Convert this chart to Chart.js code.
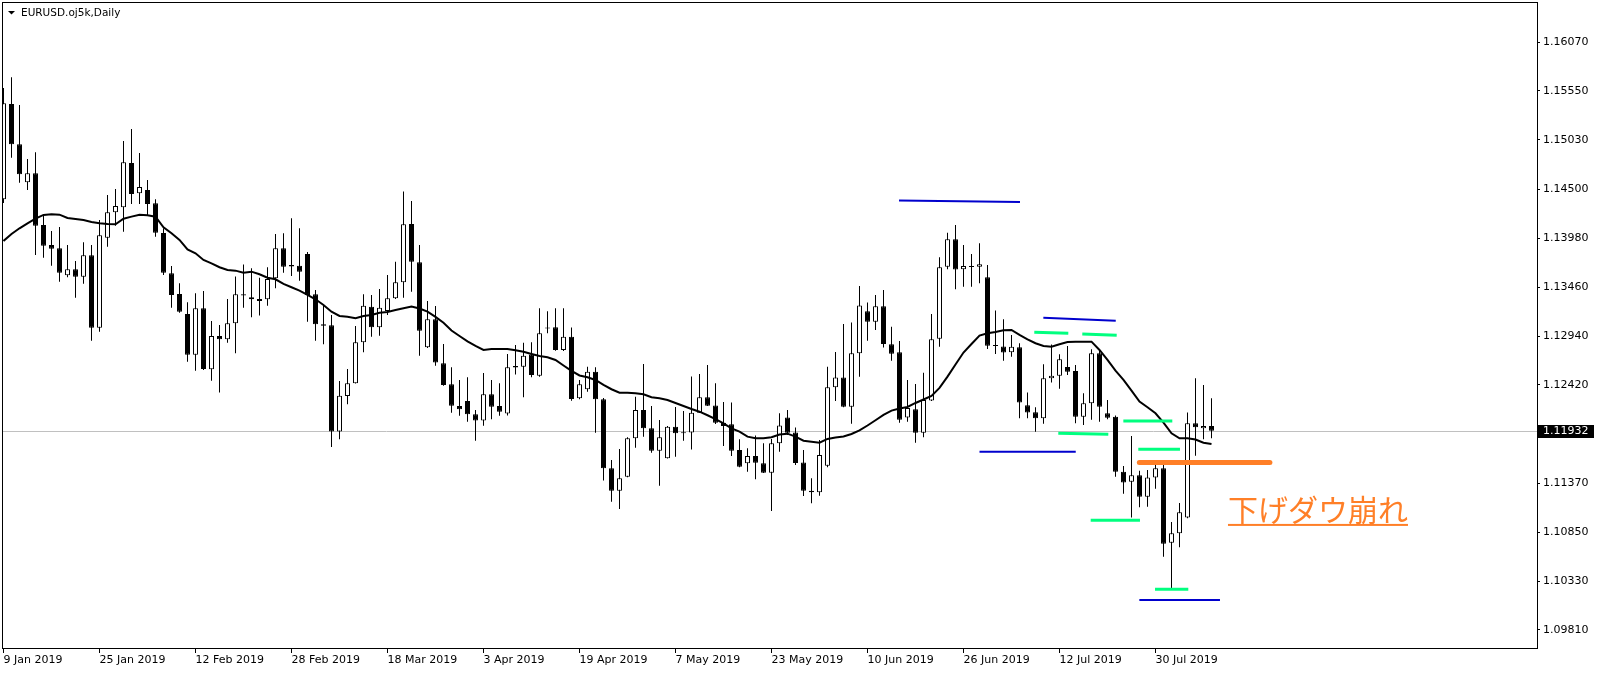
<!DOCTYPE html>
<html><head><meta charset="utf-8">
<script src="https://cdn.jsdelivr.net/npm/chart.js@4.4.0/dist/chart.umd.min.js"></script>
<style>html,body{margin:0;padding:0;background:#fff;}canvas{display:block;}</style>
</head><body>
<canvas id="c" width="1600" height="673"></canvas>
<script>
const symbolTitle = 'EURUSD.oj5k,Daily';
const annotationText = '下げダウ崩れ';

const opens = [1.14396,1.15411,1.14982,1.14577,1.14673,1.14122,1.13909,1.13874,1.13587,1.13650,
1.13572,1.13800,1.13029,1.13987,1.14257,1.14311,1.14782,1.14460,1.14495,1.14353,
1.14037,1.13608,1.13387,1.13175,1.12741,1.13235,1.12586,1.12940,1.12905,1.13076,
1.13384,1.13352,1.13334,1.13331,1.13555,1.13874,1.13696,1.13689,1.13813,1.13384,
1.13065,1.13054,1.11923,1.12301,1.12437,1.12873,1.13252,1.13033,1.13206,1.13342,
1.13512,1.14133,1.13725,1.12820,1.13118,1.12650,1.12426,1.12195,1.12248,1.12107,
1.12041,1.12320,1.12195,1.12115,1.12621,1.12613,1.12743,1.12518,1.13031,1.13033,
1.12791,1.12933,1.12277,1.12373,1.12560,1.12266,1.11532,1.11293,1.11442,1.11851,
1.12152,1.11957,1.11719,1.11638,1.11974,1.11915,1.11913,1.12124,1.12288,1.12200,
1.12017,1.12000,1.11726,1.11585,1.11663,1.11585,1.11485,1.11798,1.12073,1.11913,
1.11593,1.11293,1.11276,1.11559,1.12394,1.12498,1.12187,1.12756,1.13204,1.13093,
1.13258,1.12853,1.12768,1.12073,1.12161,1.11911,1.12253,1.12910,1.13678,1.13970,
1.13650,1.13680,1.13678,1.13565,1.12839,1.12828,1.12767,1.12820,1.12203,1.12128,
1.12064,1.12490,1.12518,1.12610,1.12567,1.12081,1.12224,1.12756,1.12117,1.12081,
1.11495,1.11389,1.11457,1.11229,1.11434,1.11532,1.10739,1.10839,1.11006,1.12011,
1.11957,1.11982];

const highs = [1.15581,1.15695,1.15400,1.14825,1.14896,1.14239,1.14058,1.14101,1.13909,1.13739,
1.13938,1.13909,1.14175,1.14442,1.14506,1.15017,1.15144,1.14889,1.14601,1.14396,
1.14087,1.13686,1.13501,1.13299,1.13395,1.13419,1.13100,1.13057,1.13334,1.13574,
1.13702,1.13661,1.13561,1.13672,1.14026,1.14034,1.14194,1.14087,1.13835,1.13430,
1.13260,1.13164,1.12461,1.12589,1.13047,1.13384,1.13377,1.13441,1.13590,1.13731,
1.14479,1.14378,1.13909,1.13313,1.13260,1.12855,1.12607,1.12472,1.12500,1.12152,
1.12546,1.12472,1.12437,1.12749,1.12844,1.12869,1.12873,1.13235,1.13203,1.13235,
1.13235,1.13031,1.12472,1.12613,1.12607,1.12280,1.11620,1.11737,1.11862,1.12294,
1.12642,1.12195,1.12046,1.11982,1.12184,1.12142,1.12509,1.12536,1.12632,1.12437,
1.12237,1.12232,1.11840,1.11745,1.11881,1.11798,1.11844,1.12117,1.12152,1.11966,
1.11726,1.11425,1.11833,1.12613,1.12770,1.13068,1.13084,1.13473,1.13297,1.13377,
1.13430,1.13039,1.12887,1.12472,1.12429,1.12550,1.13175,1.13778,1.14040,1.14122,
1.13909,1.13813,1.13927,1.13696,1.13212,1.13118,1.12951,1.12863,1.12339,1.12181,
1.12639,1.12850,1.12746,1.12834,1.12631,1.12330,1.12799,1.12794,1.12259,1.12094,
1.11556,1.11875,1.11506,1.11513,1.11572,1.11572,1.10960,1.11162,1.12126,1.12490,
1.12418,1.12277];

const lows = [1.14357,1.14839,1.14573,1.14495,1.13803,1.13774,1.13689,1.13519,1.13565,1.13348,
1.13497,1.12890,1.12986,1.13891,1.14115,1.14051,1.14346,1.14346,1.14229,1.13998,
1.13590,1.13242,1.13188,1.12667,1.12571,1.12578,1.12464,1.12339,1.12869,1.12756,
1.13242,1.13139,1.13157,1.13263,1.13448,1.13614,1.13579,1.13529,1.13093,1.12890,
1.12852,1.11758,1.11840,1.12213,1.12435,1.12767,1.12933,1.12943,1.13164,1.13334,
1.13348,1.13412,1.12731,1.12812,1.12624,1.12411,1.12124,1.12092,1.12028,1.11825,
1.11985,1.12053,1.12092,1.12094,1.12530,1.12288,1.12500,1.12507,1.12969,1.12784,
1.12781,1.12251,1.12266,1.12347,1.11911,1.11402,1.11176,1.11098,1.11436,1.11751,
1.11868,1.11698,1.11346,1.11636,1.11655,1.11825,1.11732,1.12120,1.12195,1.12003,
1.11769,1.11663,1.11542,1.11495,1.11414,1.11482,1.11077,1.11708,1.11886,1.11567,
1.11237,1.11159,1.11240,1.11542,1.12248,1.12181,1.12006,1.12507,1.12890,1.13004,
1.12818,1.12677,1.12017,1.12028,1.11804,1.11862,1.12248,1.12826,1.13650,1.13437,
1.13465,1.13465,1.13501,1.12802,1.12749,1.12677,1.12720,1.12064,1.12064,1.11921,
1.12006,1.12445,1.12379,1.12525,1.12011,1.11993,1.12049,1.12028,1.12053,1.11442,
1.11261,1.11006,1.11116,1.11122,1.11314,1.10590,1.10257,1.10690,1.10999,1.11666,
1.11840,1.11851];

const closes = [1.15418,1.14982,1.14662,1.14673,1.14115,1.13902,1.13870,1.13614,1.13650,1.13572,
1.13800,1.13029,1.14013,1.14257,1.14325,1.14790,1.14452,1.14527,1.14346,1.14040,
1.13614,1.13377,1.13199,1.12741,1.13235,1.12589,1.12940,1.12905,1.13076,1.13384,
1.13371,1.13331,1.13313,1.13547,1.13874,1.13678,1.13680,1.13625,1.13377,1.13065,
1.13050,1.11923,1.12305,1.12437,1.12873,1.13263,1.13033,1.13242,1.13342,1.13512,
1.14130,1.13731,1.12997,1.13118,1.12658,1.12418,1.12198,1.12160,1.12107,1.12041,
1.12320,1.12187,1.12134,1.12607,1.12605,1.12731,1.12525,1.12969,1.13020,1.12791,
1.12933,1.12269,1.12426,1.12560,1.12266,1.11532,1.11293,1.11425,1.11851,1.12152,
1.11957,1.11719,1.11862,1.11974,1.11904,1.11904,1.12124,1.12288,1.12198,1.12017,
1.11982,1.11719,1.11549,1.11663,1.11591,1.11485,1.11798,1.11987,1.11911,1.11588,
1.11293,1.11276,1.11673,1.12394,1.12498,1.12187,1.12756,1.13265,1.13093,1.13258,
1.12855,1.12752,1.12049,1.12174,1.11911,1.12259,1.12905,1.13672,1.13970,1.13648,
1.13686,1.13676,1.13705,1.12837,1.12834,1.12765,1.12826,1.12232,1.12126,1.12064,
1.12490,1.12518,1.12692,1.12560,1.12081,1.12224,1.12756,1.12187,1.12070,1.11495,
1.11380,1.11457,1.11229,1.11434,1.11532,1.10729,1.10839,1.11063,1.12011,1.11968,
1.11982,1.11932];

const maValues = [1.13952,1.14026,1.14087,1.14140,1.14189,1.14229,1.14236,1.14232,1.14197,1.14186,
1.14175,1.14154,1.14140,1.14133,1.14130,1.14189,1.14211,1.14232,1.14225,1.14211,
1.14098,1.14034,1.13963,1.13863,1.13821,1.13750,1.13714,1.13672,1.13643,1.13636,
1.13614,1.13625,1.13597,1.13561,1.13544,1.13494,1.13459,1.13423,1.13377,1.13331,
1.13270,1.13199,1.13153,1.13146,1.13129,1.13153,1.13164,1.13188,1.13196,1.13217,
1.13235,1.13254,1.13233,1.13199,1.13143,1.13082,1.12999,1.12940,1.12882,1.12834,
1.12791,1.12802,1.12802,1.12802,1.12788,1.12773,1.12749,1.12727,1.12713,1.12685,
1.12626,1.12568,1.12520,1.12501,1.12472,1.12419,1.12373,1.12336,1.12336,1.12330,
1.12319,1.12288,1.12277,1.12259,1.12227,1.12195,1.12163,1.12134,1.12096,1.12056,
1.12009,1.11957,1.11921,1.11868,1.11851,1.11851,1.11862,1.11891,1.11900,1.11868,
1.11825,1.11815,1.11804,1.11844,1.11860,1.11870,1.11897,1.11934,1.11987,1.12043,
1.12099,1.12145,1.12168,1.12184,1.12227,1.12264,1.12301,1.12387,1.12507,1.12637,
1.12764,1.12855,1.12945,1.12969,1.12983,1.13001,1.13004,1.12951,1.12905,1.12863,
1.12834,1.12826,1.12852,1.12876,1.12880,1.12880,1.12880,1.12791,1.12685,1.12571,
1.12472,1.12358,1.12241,1.12181,1.12117,1.12017,1.11904,1.11851,1.11851,1.11838,
1.11804,1.11790];

// date axis: bar index of each label and its text
const dateTickIndex = [0,12,24,36,48,60,72,84,96,108,120,132,144];
const dateTickLabels = ['9 Jan 2019','25 Jan 2019','12 Feb 2019','28 Feb 2019','18 Mar 2019','3 Apr 2019',
  '19 Apr 2019','7 May 2019','23 May 2019','10 Jun 2019','26 Jun 2019','12 Jul 2019','30 Jul 2019'];
const priceTicks = [1.09810,1.10330,1.10850,1.11370,1.11900,1.12420,1.12940,1.13460,1.13980,1.14500,1.15030,1.15550,1.16070];

// drawn objects: [startBar, startPrice, endBar, endPrice]
const blueLines = [
  [111.94,1.14383,127.06,1.14367],
  [129.98,1.13135,139.03,1.13103],
  [122.00,1.11708,134.03,1.11708],
  [141.98,1.10129,152.06,1.10129]
];
const greenLines = [
  [128.85,1.12980,133.10,1.12969],
  [134.85,1.12962,139.15,1.12948],
  [139.98,1.12035,146.10,1.12035],
  [131.85,1.11904,138.10,1.11894],
  [141.85,1.11734,147.06,1.11734],
  [135.90,1.10978,142.06,1.10978],
  [143.94,1.10243,148.10,1.10243]
];
const orangeLines = [
  [141.98,1.11592,158.30,1.11592]
];
const annotationAt = [153.06, 1.11088]; // bar, price (text centre line)

const xMin = -0.0625, xMax = 191.6875;
const yMin = 1.09607, yMax = 1.16486;

const wickData = lows.map((l,i)=>({x:i, y:[l, highs[i]]}));
const bodyData = opens.map((o,i)=>({x:i, y:[o, closes[i]]}));
const bodyFill = opens.map((o,i)=> closes[i] >= o ? '#ffffff' : '#000000');
const maData = maValues.map((v,i)=>({x:i, y:v}));

function segDatasets(list, color, width, cap){
  return list.map(s => ({
    type:'line', data:[{x:s[0],y:s[1]},{x:s[2],y:s[3]}],
    borderColor:color, borderWidth:width, borderCapStyle:cap,
    pointRadius:0, pointHoverRadius:0, tension:0, order:0, clip:0
  }));
}

const decor = {
  id:'decor',
  beforeDatasetsDraw(chart){
    const {ctx, chartArea:a, scales:{y}} = chart;
    const py = Math.round(y.getPixelForValue(closes[closes.length-1])) + 0.5;
    ctx.save();
    ctx.strokeStyle = '#c0c0c0'; ctx.lineWidth = 1;
    ctx.beginPath(); ctx.moveTo(a.left, py); ctx.lineTo(a.right, py); ctx.stroke();
    ctx.restore();
  },
  afterDraw(chart){
    const {ctx, chartArea:a, scales:{x,y}} = chart;
    ctx.save();
    // frame
    ctx.strokeStyle = '#000'; ctx.lineWidth = 1;
    ctx.strokeRect(Math.round(a.left)-0.5, Math.round(a.top)-0.5, Math.round(a.right-a.left)+1, Math.round(a.bottom-a.top));
    // title
    ctx.fillStyle = '#000';
    ctx.beginPath(); ctx.moveTo(8,11); ctx.lineTo(15,11); ctx.lineTo(11.5,14.5); ctx.closePath(); ctx.fill();
    ctx.font = '10.5px "DejaVu Sans"'; ctx.textBaseline = 'alphabetic'; ctx.textAlign = 'left';
    ctx.fillText(symbolTitle, 21, 16);
    // current price box
    const last = closes[closes.length-1];
    const py = Math.round(y.getPixelForValue(last));
    ctx.fillStyle = '#000';
    ctx.fillRect(a.right+1, py-6, 56, 13);
    ctx.fillStyle = '#fff'; ctx.font = '11px "DejaVu Sans"'; ctx.textBaseline = 'middle';
    ctx.fillText(last.toFixed(5), a.right+6, py+0.5);
    // annotation
    const tx = x.getPixelForValue(annotationAt[0]);
    const ty = y.getPixelForValue(annotationAt[1]);
    ctx.font = '30px "Noto Sans CJK JP"';
    ctx.fillStyle = '#FF7F27'; ctx.textBaseline = 'middle';
    ctx.fillText(annotationText, tx, ty);
    const w = ctx.measureText(annotationText).width;
    ctx.fillRect(tx, ty+14, w, 2);
    ctx.restore();
  }
};

new Chart(document.getElementById('c'), {
  type:'bar',
  data:{ datasets:[
    ...segDatasets(blueLines, '#0000CD', 2, 'butt'),
    ...segDatasets(greenLines, '#00FF7F', 3, 'butt'),
    ...segDatasets(orangeLines, '#FF7F27', 5, 'round'),
    {type:'line', data:maData, borderColor:'#000', borderWidth:2, pointRadius:0, pointHoverRadius:0, tension:0, order:1, clip:0},
    {type:'bar', data:bodyData, backgroundColor:bodyFill, borderColor:'#000', borderWidth:1, borderSkipped:false,
      barThickness:5, grouped:false, inflateAmount:0, minBarLength:1, order:2, clip:0},
    {type:'bar', data:wickData, backgroundColor:'#000', borderWidth:0, barThickness:1, grouped:false, inflateAmount:0, order:3, clip:0}
  ]},
  options:{
    responsive:false, devicePixelRatio:1, animation:false,
    layout:{padding:{left:3, top:3, right:0, bottom:0}},
    plugins:{legend:{display:false}, tooltip:{enabled:false}},
    events:[],
    scales:{
      x:{type:'linear', min:xMin, max:xMax, offset:false, bounds:'data',
        grid:{display:true, drawOnChartArea:false, drawTicks:true, tickLength:4, color:'#000', offset:false},
        border:{display:false},
        ticks:{autoSkip:false, maxRotation:0, minRotation:0, align:'start', padding:1, color:'#000',
          font:{family:'DejaVu Sans', size:11},
          callback:(v)=>{const k = dateTickIndex.indexOf(v); return k>=0 ? dateTickLabels[k] : '';}},
        afterBuildTicks:(s)=>{ s.ticks = dateTickIndex.map(v=>({value:v})); },
        afterFit:(s)=>{ s.height = 24; s.paddingLeft = 0; s.paddingRight = 0; }
      },
      y:{type:'linear', position:'right', min:yMin, max:yMax, beginAtZero:false,
        grid:{display:true, drawOnChartArea:false, drawTicks:true, tickLength:3, color:'#000'},
        border:{display:false},
        ticks:{padding:3, color:'#000', font:{family:'DejaVu Sans', size:11},
          callback:(v)=>Number(v).toFixed(5)},
        afterBuildTicks:(s)=>{ s.ticks = priceTicks.map(v=>({value:v})); },
        afterFit:(s)=>{ s.width = 63; s.paddingTop = 0; s.paddingBottom = 0; }
      }
    }
  },
  plugins:[decor]
});
</script>
</body></html>
